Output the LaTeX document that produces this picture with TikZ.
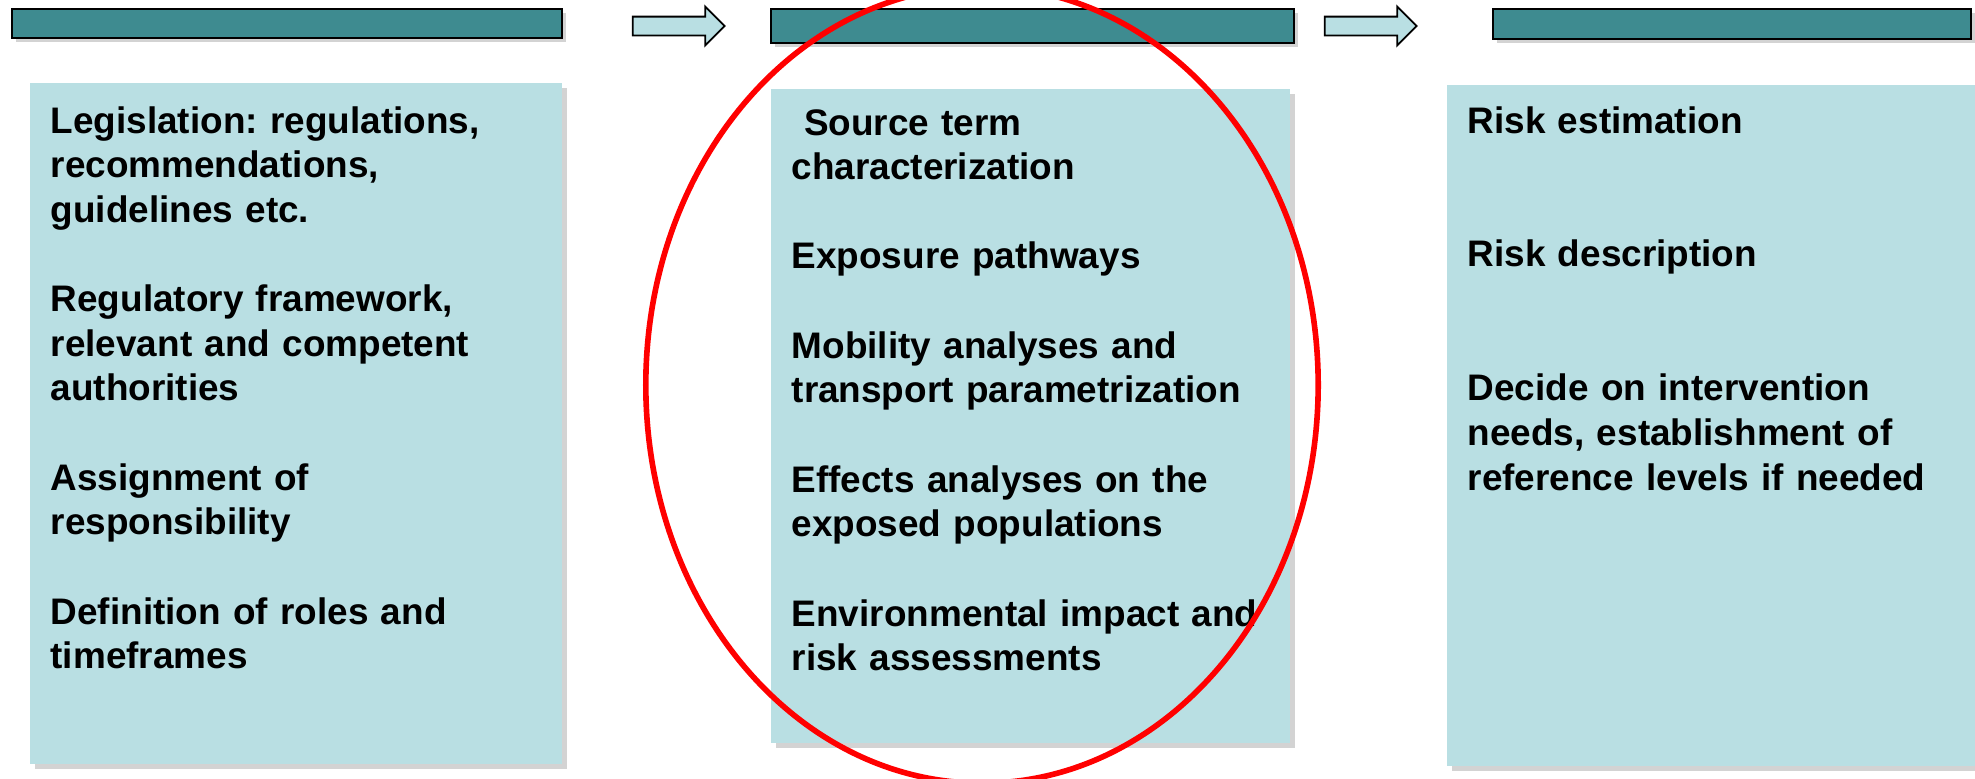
\documentclass[tikz,border=0pt]{standalone}
\usepackage{fontspec}
\setmainfont{Liberation Sans}
\usepackage{xcolor}
\definecolor{headcolor}{RGB}{62,139,144}
\definecolor{boxcolor}{RGB}{185,223,227}
\usepackage{tikz}
\usetikzlibrary{shapes.arrows}
\usetikzlibrary{shapes.geometric}
\usetikzlibrary{shadows}

\newcommand{\blankline}{\\[12.7pt]}
\newcommand{\twoblanklines}{\\[25.4pt]}

\begin{document}
\frenchspacing
\begin{tikzpicture}[x=0.01cm, y=-0.01cm,
			header/.style={draw=black, line width=0.5pt, fill=headcolor, anchor=north west, inner sep=0pt,
				drop shadow={shadow xshift=0.04cm, shadow yshift=-0.04cm, opacity=0.35}},
			panel/.style={fill=boxcolor, anchor=north west, inner sep=0pt,
				drop shadow={shadow xshift=0.05cm, shadow yshift=-0.05cm, opacity=0.35}},
			flow/.style={single arrow, draw=black, line width=0.5pt, fill=boxcolor,
				inner xsep=0pt, inner ysep=0.085cm, minimum height=0.92cm, minimum width=0.37cm,
				single arrow head extend=0.1cm},
			items/.style={anchor=base west, inner sep=0pt, align=left, text width=5cm,
				font=\fontsize{10.5pt}{12.7pt}\selectfont\bfseries},
			]
			\useasboundingbox (0,0) rectangle (1975,778);

			% headers and arrows
			\node[header, minimum width=5.50cm, minimum height=0.29cm] (head1) at (11,8) {};
			\node[header, minimum width=5.23cm, minimum height=0.34cm] (head2) at (770,8) {};
			\node[header, minimum width=4.78cm, minimum height=0.30cm] (head3) at (1492,8) {};
			\node[flow] (step1) at (674,26) {};
			\node[flow] (step2) at (1366,26) {};

			% panels
			\node[panel, minimum width=5.32cm, minimum height=6.81cm] (panel1) at (29,82) {};
			\node[panel, minimum width=5.19cm, minimum height=6.54cm] (panel2) at (770,88) {};
			\node[panel, minimum width=5.40cm, minimum height=6.81cm] (panel3) at (1446,84) {};

			\node[items] (list1) at (50,133) {Legislation: regulations,\\recommendations,\\guidelines etc.\blankline
				Regulatory framework,\\relevant and competent\\authorities\blankline
				Assignment of\\responsibility\blankline
				Definition of roles and\\timeframes};
			\node[items] (list2) at (791,135) {\ Source term\\characterization\blankline
				Exposure pathways\blankline
				Mobility analyses and\\transport parametrization\blankline
				Effects analyses on the\\exposed populations\blankline
				Environmental impact and\\risk assessments};
			\node[items] (list3) at (1467,133) {Risk estimation\twoblanklines
				Risk description\twoblanklines
				Decide on intervention\\needs, establishment of\\reference levels if needed};

			\node[ellipse, draw=red, line width=1.6pt, inner sep=0pt,
				minimum width=6.72cm, minimum height=7.96cm] (focus) at (982,385) {};
		\end{tikzpicture}
\end{document}
